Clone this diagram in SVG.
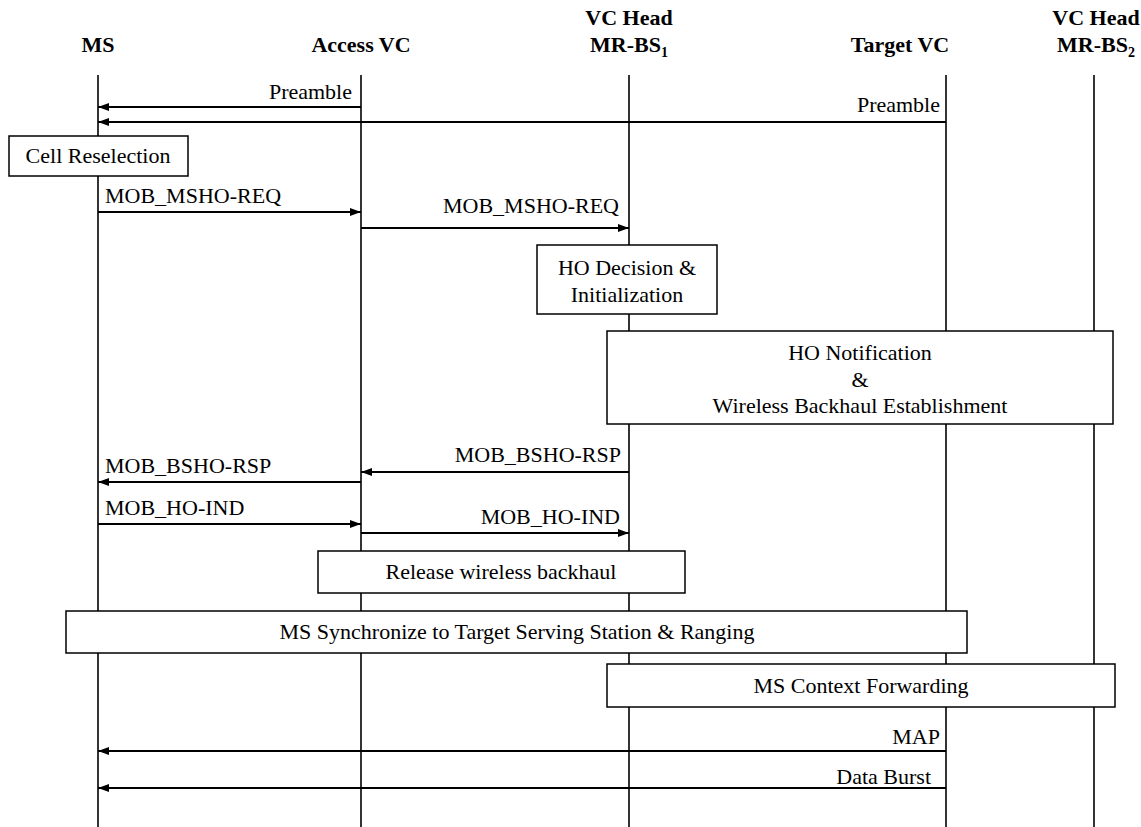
<svg xmlns="http://www.w3.org/2000/svg" width="1141" height="827" viewBox="0 0 1141 827">
<style>
.t{font-family:"Liberation Serif","Times New Roman",serif;font-size:22px;fill:#000}
.h{font-family:"Liberation Serif","Times New Roman",serif;font-size:22px;font-weight:bold;fill:#000}
.life{stroke:#000;stroke-width:1.6;fill:none}
.msg{stroke:#000;stroke-width:2;fill:none;marker-end:url(#ah)}
.box{fill:#fff;stroke:#000;stroke-width:1.5}
.m{text-anchor:middle}
.e{text-anchor:end}
</style>
<defs>
<marker id="ah" viewBox="0 0 11 8" refX="11" refY="4" markerWidth="11" markerHeight="8" orient="auto" markerUnits="userSpaceOnUse">
<path d="M0,0 L11,4 L0,8 z" fill="#000"/>
</marker>
</defs>
<rect width="1141" height="827" fill="#fff"/>
<g id="headers">
<text class="h m" x="98" y="52">MS</text>
<text class="h m" x="361" y="52">Access VC</text>
<text class="h m" x="629" y="25">VC Head</text>
<text class="h m" x="629" y="52">MR-BS<tspan font-size="14" dy="5">1</tspan></text>
<text class="h m" x="900" y="52">Target VC</text>
<text class="h m" x="1096" y="25">VC Head</text>
<text class="h m" x="1096" y="52">MR-BS<tspan font-size="14" dy="5">2</tspan></text>
</g>
<g id="lifelines">
<line class="life" x1="98" y1="75" x2="98" y2="827"/>
<line class="life" x1="361" y1="75" x2="361" y2="827"/>
<line class="life" x1="629" y1="75" x2="629" y2="827"/>
<line class="life" x1="946" y1="75" x2="946" y2="827"/>
<line class="life" x1="1094" y1="75" x2="1094" y2="827"/>
</g>
<g id="connectors">
<line class="msg" x1="361" y1="107" x2="98" y2="107"/>
<text class="t e" x="352" y="99">Preamble</text>
<line class="msg" x1="946" y1="122" x2="98" y2="122"/>
<text class="t e" x="940" y="112">Preamble</text>
<line class="msg" x1="98" y1="212" x2="361" y2="212"/>
<text class="t" x="105" y="203">MOB_MSHO-REQ</text>
<line class="msg" x1="361" y1="228" x2="629" y2="228"/>
<text class="t e" x="619" y="213">MOB_MSHO-REQ</text>
<line class="msg" x1="629" y1="472" x2="361" y2="472"/>
<text class="t e" x="621" y="462">MOB_BSHO-RSP</text>
<line class="msg" x1="361" y1="482" x2="98" y2="482"/>
<text class="t" x="105" y="473">MOB_BSHO-RSP</text>
<line class="msg" x1="98" y1="524" x2="361" y2="524"/>
<text class="t" x="105" y="515">MOB_HO-IND</text>
<line class="msg" x1="361" y1="533" x2="629" y2="533"/>
<text class="t e" x="620" y="524">MOB_HO-IND</text>
<line class="msg" x1="946" y1="751" x2="98" y2="751"/>
<text class="t e" x="940" y="744">MAP</text>
<line class="msg" x1="946" y1="788" x2="98" y2="788"/>
<text class="t e" x="931" y="784">Data Burst</text>
</g>
<g id="cell-reselection">
<rect class="box" x="9" y="136" width="179" height="40"/>
<text class="t m" x="98" y="163">Cell Reselection</text>
</g>
<g id="ho-decision">
<rect class="box" x="537" y="245" width="180" height="69"/>
<text class="t m" x="627" y="275">HO Decision &amp;</text>
<text class="t m" x="627" y="302">Initialization</text>
</g>
<g id="ho-notification">
<rect class="box" x="607" y="331" width="506" height="93"/>
<text class="t m" x="860" y="360">HO Notification</text>
<text class="t m" x="860" y="387">&amp;</text>
<text class="t m" x="860" y="413">Wireless Backhaul Establishment</text>
</g>
<g id="release-backhaul">
<rect class="box" x="318" y="551" width="367" height="42"/>
<text class="t m" x="501" y="579">Release wireless backhaul</text>
</g>
<g id="ms-sync">
<rect class="box" x="66" y="611" width="901" height="42"/>
<text class="t m" x="517" y="639">MS Synchronize to Target Serving Station &amp; Ranging</text>
</g>
<g id="ms-context">
<rect class="box" x="607" y="664" width="508" height="43"/>
<text class="t m" x="861" y="693">MS Context Forwarding</text>
</g>
</svg>
